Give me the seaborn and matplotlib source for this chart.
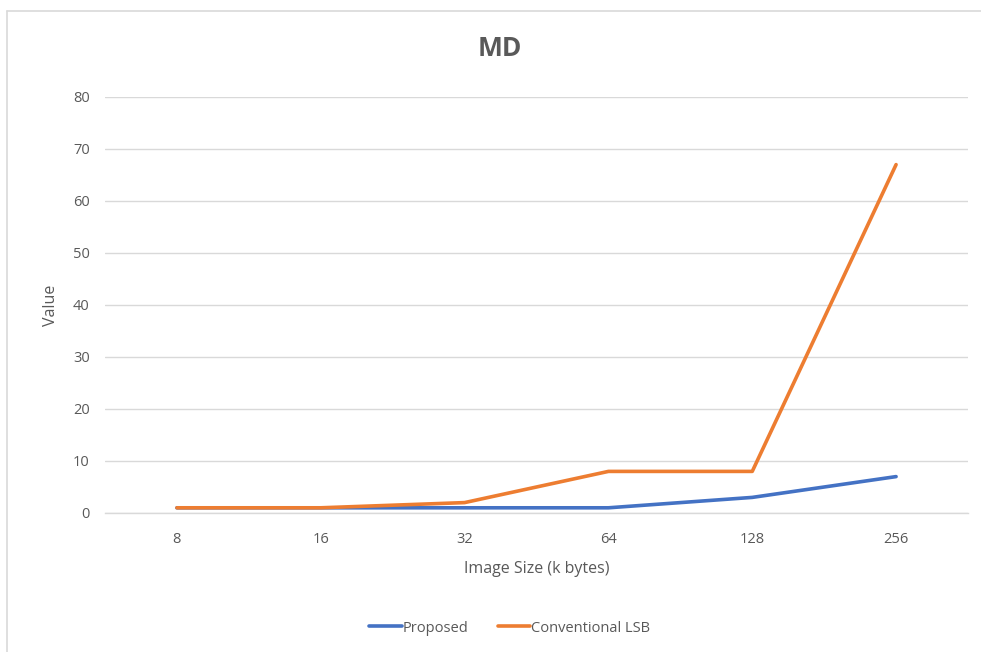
import matplotlib
matplotlib.use("Agg")
import matplotlib.pyplot as plt
from matplotlib.lines import Line2D
import seaborn as sns
import pandas as pd

categories = ["8", "16", "32", "64", "128", "256"]
proposed = [1, 1, 1, 1, 3, 7]
conventional = [1, 1, 2, 8, 8, 67]
series_names = ["Proposed", "Conventional LSB"]
colors = ["#4472C4", "#ED7D31"]

df = pd.DataFrame({
    "size": categories * 2,
    "value": proposed + conventional,
    "series": [series_names[0]] * len(categories) + [series_names[1]] * len(categories),
})

sns.set_theme(style="white")
plt.rcParams['font.family'] = ['Open Sans', 'DejaVu Sans']
txt = "#595959"
grid = "#D9D9D9"

fig = plt.figure(figsize=(9.81, 6.52), dpi=100)
ax = fig.add_axes([105/981, 1-513/652, (968-105)/981, (513-97)/652])

sns.lineplot(data=df, x="size", y="value", hue="series", palette=colors,
             linewidth=2.6, ax=ax, legend=False, sort=False)

ax.set_ylim(0, 80)
ax.set_xlim(-0.5, 5.5)
ax.set_yticks(range(0, 81, 10))
ax.yaxis.grid(True, color=grid, linewidth=1)
ax.set_axisbelow(True)
for s in ["top", "right", "left"]:
    ax.spines[s].set_visible(False)
ax.spines["bottom"].set_color(grid)
ax.spines["bottom"].set_linewidth(1)

ax.set_xticks(range(len(categories)))
ax.set_xticklabels(categories)
ax.set_xticks([i - 0.5 for i in range(len(categories) + 1)], minor=True)
ax.tick_params(axis="x", which="major", length=0, pad=14, labelsize=10.5, colors=txt)
ax.tick_params(axis="x", which="minor", length=6, color=grid, width=1)
ax.tick_params(axis="y", length=0, pad=11, labelsize=10.5, colors=txt)

ax.set_xlabel("Image Size (k bytes)", fontsize=11.5, color=txt, labelpad=10)
ax.set_ylabel("Value", fontsize=11.5, color=txt, labelpad=10)

fig.text(500/981, 1-48/652, "MD", ha="center", va="center", fontsize=19,
         fontweight="bold", color=txt)

handles = [Line2D([0], [0], color=c, linewidth=2.6) for c in colors]
fig.legend(handles, series_names, loc="center", bbox_to_anchor=(510/981, 1-628/652),
           ncol=2, frameon=False, fontsize=10.5, labelcolor=txt,
           handlelength=2.2, handletextpad=0.1, columnspacing=2.0)

# outer chart border (left and top edges visible)
fig.add_artist(Line2D([7/981, 7/981], [0, 1-11/652], transform=fig.transFigure,
                      color="#D9D9D9", linewidth=1.2))
fig.add_artist(Line2D([7/981, 1], [1-11/652, 1-11/652], transform=fig.transFigure,
                      color="#D9D9D9", linewidth=1.2))

fig.savefig("out.png", dpi=100, facecolor="white")
